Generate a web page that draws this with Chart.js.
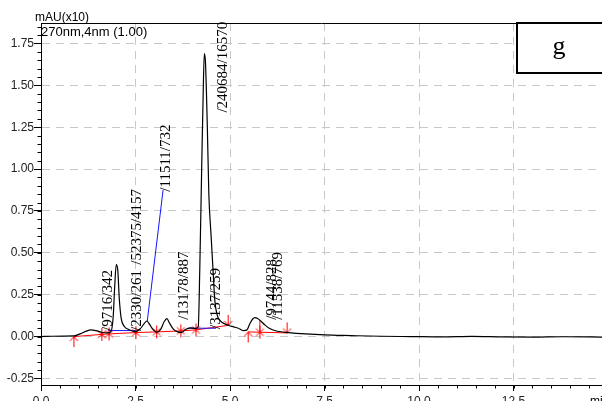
<!DOCTYPE html>
<html>
<head>
<meta charset="utf-8">
<style>
html, body { margin: 0; padding: 0; background: #fff; }
</style>
<script src="https://cdn.jsdelivr.net/npm/chart.js@4.4.1/dist/chart.umd.min.js"></script>
</head>
<body>
<canvas id="chrom" width="602" height="401"></canvas>
<script>
// detector trace (min, mAU x10)
const traceTime = [0.00, 0.30, 0.60, 0.87, 1.05, 1.20, 1.32, 1.45, 1.60, 1.75, 1.85, 1.91, 1.95, 1.99, 2.03, 2.07, 2.12, 2.20, 2.32, 2.48,
  2.62, 2.72, 2.80, 2.88, 2.97, 3.07, 3.17, 3.26, 3.33, 3.40, 3.50, 3.62, 3.72, 3.82, 3.95, 4.08, 4.16, 4.20, 4.25, 4.29,
  4.32, 4.35, 4.40, 4.44, 4.50, 4.55, 4.60, 4.66, 4.74, 4.84, 4.97, 5.10, 5.22, 5.35, 5.45, 5.52, 5.60, 5.66, 5.73, 5.82,
  5.92, 6.05, 6.25, 6.55, 7.00, 7.50, 8.20, 9.00, 9.80, 10.60, 11.40, 12.20, 13.00, 13.80, 14.84];
const traceSignal = [0.000, 0.002, 0.003, 0.004, 0.018, 0.033, 0.040, 0.036, 0.026, 0.022, 0.030, 0.120, 0.300, 0.430, 0.400, 0.230, 0.110, 0.062, 0.042, 0.030,
  0.045, 0.075, 0.093, 0.070, 0.040, 0.026, 0.045, 0.090, 0.107, 0.080, 0.045, 0.028, 0.025, 0.042, 0.052, 0.048, 0.060, 0.400, 1.000, 1.450,
  1.690, 1.640, 1.250, 0.850, 0.600, 0.400, 0.210, 0.130, 0.095, 0.078, 0.066, 0.058, 0.050, 0.036, 0.040, 0.075, 0.105, 0.113, 0.108, 0.092,
  0.070, 0.048, 0.032, 0.024, 0.016, 0.010, 0.006, 0.002, 0.000, -0.002, 0.001, -0.002, -0.003, -0.001, -0.003];

// integration marks
const starTime = [1.61, 1.80, 2.51, 3.06, 3.70, 4.10, 5.79];
const starLevel = [0.013, 0.016, 0.024, 0.028, 0.034, 0.040, 0.026];
const riseTime = [0.87, 5.48];
const riseLevel = [0.000, 0.028];
const fallTime = [4.95, 6.51];
const fallLevel = [0.067, 0.022];

// baselines
const baseATime = [0.87, 1.61, 1.80, 2.51, 3.06, 3.70, 4.10, 4.95];
const baseALevel = [0.000, 0.013, 0.016, 0.024, 0.028, 0.034, 0.040, 0.067];
const baseBTime = [5.48, 5.79, 6.51];
const baseBLevel = [0.028, 0.026, 0.022];
const dropTime = [5.79, 5.79];
const dropLevel = [0.026, 0.100];
const skimATime = [1.77, 2.51];
const skimALevel = [0.036, 0.036];
const skimBTime = [3.89, 4.63];
const skimBLevel = [0.050, 0.050];
const leaderTime = [2.81, 3.23];
const leaderLevel = [0.090, 0.876];

// area/height tags
const tagText = ['/9716/342', '/2330/261', '/52375/4157', '/11511/732', '/13178/887', '/240684/16570', '/3137/259', '/9744/828', '/11538/769'];
const tagTime = [1.878, 2.646, 2.646, 3.413, 3.889, 4.920, 4.736, 6.217, 6.376];
const tagLevel = [0.034, 0.034, 0.429, 0.865, 0.100, 1.337, 0.046, 0.100, 0.100];

const xTicks = [0, 2.5, 5, 7.5, 10, 12.5];
const yTicks = [-0.25, 0, 0.25, 0.5, 0.75, 1, 1.25, 1.5, 1.75];

const sans = '"Liberation Sans", Arial, sans-serif';
const serif = '"Liberation Serif", "Times New Roman", serif';
const pts = (xs, ys) => xs.map((x, i) => ({ x: x, y: ys[i] }));

function mark(kind) {
  const c = document.createElement('canvas');
  c.width = 11; c.height = 25;
  const g = c.getContext('2d');
  g.strokeStyle = '#ff0000';
  g.lineWidth = 1;
  g.beginPath();
  if (kind === 'star') {
    g.moveTo(5.5, 6); g.lineTo(5.5, 19);
    g.moveTo(1.5, 9); g.lineTo(9.5, 16);
    g.moveTo(9.5, 9); g.lineTo(1.5, 16);
  } else if (kind === 'up') {
    g.moveTo(5.5, 12.5); g.lineTo(5.5, 23);
    g.moveTo(1.5, 17); g.lineTo(5.5, 12.5); g.lineTo(9.5, 17);
  } else {
    g.moveTo(5.5, 12.5); g.lineTo(5.5, 2);
    g.moveTo(1.5, 8); g.lineTo(5.5, 12.5); g.lineTo(9.5, 8);
  }
  g.stroke();
  return c;
}

function segment(xs, ys, color) {
  return { data: pts(xs, ys), showLine: true, borderColor: color, borderWidth: 1, pointRadius: 0, tension: 0 };
}
function marks(xs, ys, kind) {
  return { data: pts(xs, ys), showLine: false, pointStyle: mark(kind), pointRadius: 6 };
}

// axis decorations, captions and tags
const decor = {
  id: 'decor',
  afterDraw(chart) {
    const { ctx, chartArea: a, scales: { x, y } } = chart;
    ctx.save();
    ctx.strokeStyle = '#000';
    ctx.lineWidth = 1;
    ctx.beginPath();
    ctx.moveTo(a.left, a.top + 0.5); ctx.lineTo(a.right, a.top + 0.5);
    for (let v = -0.25; v <= 1.86; v += 0.05) {
      const py = Math.round(y.getPixelForValue(v)) + 0.5;
      ctx.moveTo(a.left - 3.5, py); ctx.lineTo(a.left, py);
    }
    for (let v = 0.5; v <= 14.8; v += 0.5) {
      const px = Math.round(x.getPixelForValue(v)) + 0.5;
      ctx.moveTo(px, a.bottom); ctx.lineTo(px, a.bottom + 3.5);
    }
    ctx.stroke();

    ctx.fillStyle = '#000';
    ctx.font = '12px ' + sans;
    ctx.textBaseline = 'alphabetic';
    ctx.fillText('mAU(x10)', 35, 21);
    ctx.fillText('min', 590, 405);
    ctx.font = '13px ' + sans;
    ctx.fillText('270nm,4nm (1.00)', 41, 36);

    ctx.font = '15px ' + serif;
    tagText.forEach((t, i) => {
      ctx.save();
      ctx.translate(x.getPixelForValue(tagTime[i]), y.getPixelForValue(tagLevel[i]));
      ctx.rotate(-Math.PI / 2);
      ctx.fillText(t, 0, 0);
      ctx.restore();
    });

    ctx.fillStyle = '#fff';
    ctx.fillRect(517, 23, 90, 50);
    ctx.lineWidth = 2;
    ctx.strokeRect(517, 23, 90, 50);
    ctx.fillStyle = '#000';
    ctx.font = '26px ' + serif;
    ctx.textAlign = 'center';
    ctx.fillText('g', 559, 54);
    ctx.restore();
  }
};

new Chart(document.getElementById('chrom').getContext('2d'), {
  type: 'scatter',
  data: {
    datasets: [
      { data: pts(traceTime, traceSignal), showLine: true, borderColor: '#000', borderWidth: 1.2, pointRadius: 0, cubicInterpolationMode: 'monotone' },
      marks(starTime, starLevel, 'star'),
      marks(riseTime, riseLevel, 'up'),
      marks(fallTime, fallLevel, 'down'),
      segment(skimATime, skimALevel, '#1414ff'),
      segment(skimBTime, skimBLevel, '#1414ff'),
      segment(leaderTime, leaderLevel, '#1414ff'),
      segment(baseATime, baseALevel, '#ff0000'),
      segment(baseBTime, baseBLevel, '#ff0000'),
      segment(dropTime, dropLevel, '#ff0000')
    ]
  },
  options: {
    responsive: false,
    animation: false,
    events: [],
    layout: { autoPadding: false, padding: { left: 0, top: 23, right: 0, bottom: 0 } },
    plugins: { legend: { display: false }, tooltip: { enabled: false } },
    scales: {
      x: {
        type: 'linear', min: 0, max: 14.84,
        afterBuildTicks: s => { s.ticks = xTicks.map(v => ({ value: v })); },
        afterFit: s => { s.height = 16; s.paddingLeft = 0; s.paddingRight = 0; },
        grid: { color: '#c8c8c8', lineWidth: 1, tickLength: 6, tickColor: '#000' },
        border: { display: true, color: '#000', width: 1, dash: [8, 6] },
        ticks: { autoSkip: false, maxRotation: 0, padding: 3, color: '#222', font: { family: sans, size: 12 }, callback: v => v.toFixed(1) }
      },
      y: {
        type: 'linear', min: -0.289, max: 1.872,
        afterBuildTicks: s => { s.ticks = yTicks.map(v => ({ value: v })); },
        afterFit: s => { s.width = 41; s.paddingTop = 0; s.paddingBottom = 0; },
        grid: { color: '#c8c8c8', lineWidth: 1, tickLength: 7, tickColor: '#000' },
        border: { display: true, color: '#000', width: 1, dash: [8, 6] },
        ticks: { padding: 0, color: '#222', font: { family: sans, size: 12 }, callback: v => v.toFixed(2) }
      }
    }
  },
  plugins: [decor]
});
</script>
</body>
</html>
